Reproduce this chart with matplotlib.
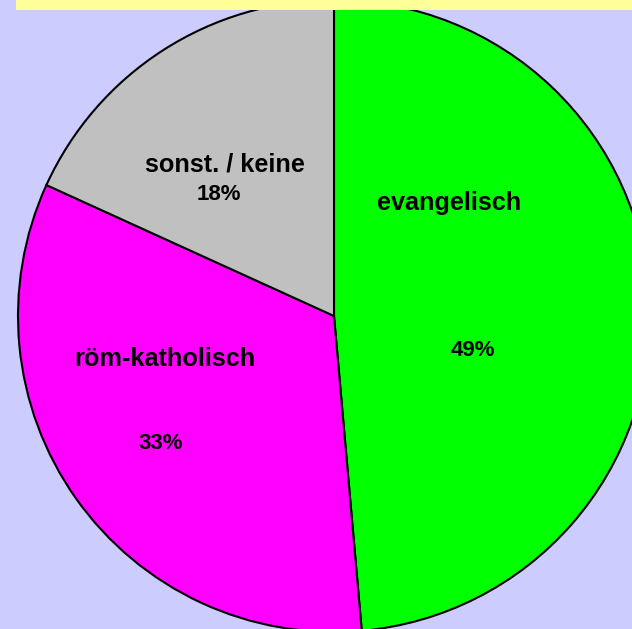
import matplotlib
matplotlib.use("Agg")
import matplotlib.pyplot as plt
from matplotlib.patches import Rectangle

categories = ["evangelisch", "röm-katholisch", "sonst. / keine"]
values = [48.6, 33.2, 18.2]
pct_labels = ["49%", "33%", "18%"]
colors = ["#00ff00", "#ff00ff", "#c0c0c0"]

W, H = 632, 629
fig = plt.figure(figsize=(W / 100, H / 100), dpi=100)
fig.patch.set_facecolor("#ccccff")
ax = fig.add_axes([0, 0, 1, 1])
ax.set_xlim(0, W)
ax.set_ylim(0, H)
ax.set_aspect("equal")
ax.axis("off")

cx, cy, R = 334, H - 316, 316
ax.pie(values, colors=colors, startangle=90, counterclock=False,
       center=(cx, cy), radius=R, frame=True,
       wedgeprops=dict(edgecolor="black", linewidth=1.5))
ax.set_xlim(0, W)
ax.set_ylim(0, H)
ax.axis("off")

font = dict(family="Liberation Sans", weight="bold", color="black")
name_pos = [(449, 210), (165, 366), (225, 172)]
pct_pos = [(473, 356), (161, 449), (219, 200)]
for name, pct, (nx, ny), (px, py) in zip(categories, pct_labels, name_pos, pct_pos):
    ax.text(nx, H - ny, name, ha="center", va="baseline", fontsize=18.2, **font)
    ax.text(px, H - py, pct, ha="center", va="baseline", fontsize=16, **font)

ax.add_patch(Rectangle((16, H - 9.5), W - 16, 9.5, facecolor="#ffff99",
                       edgecolor="none", zorder=10))

fig.savefig("out.png", dpi=100, facecolor=fig.get_facecolor())
